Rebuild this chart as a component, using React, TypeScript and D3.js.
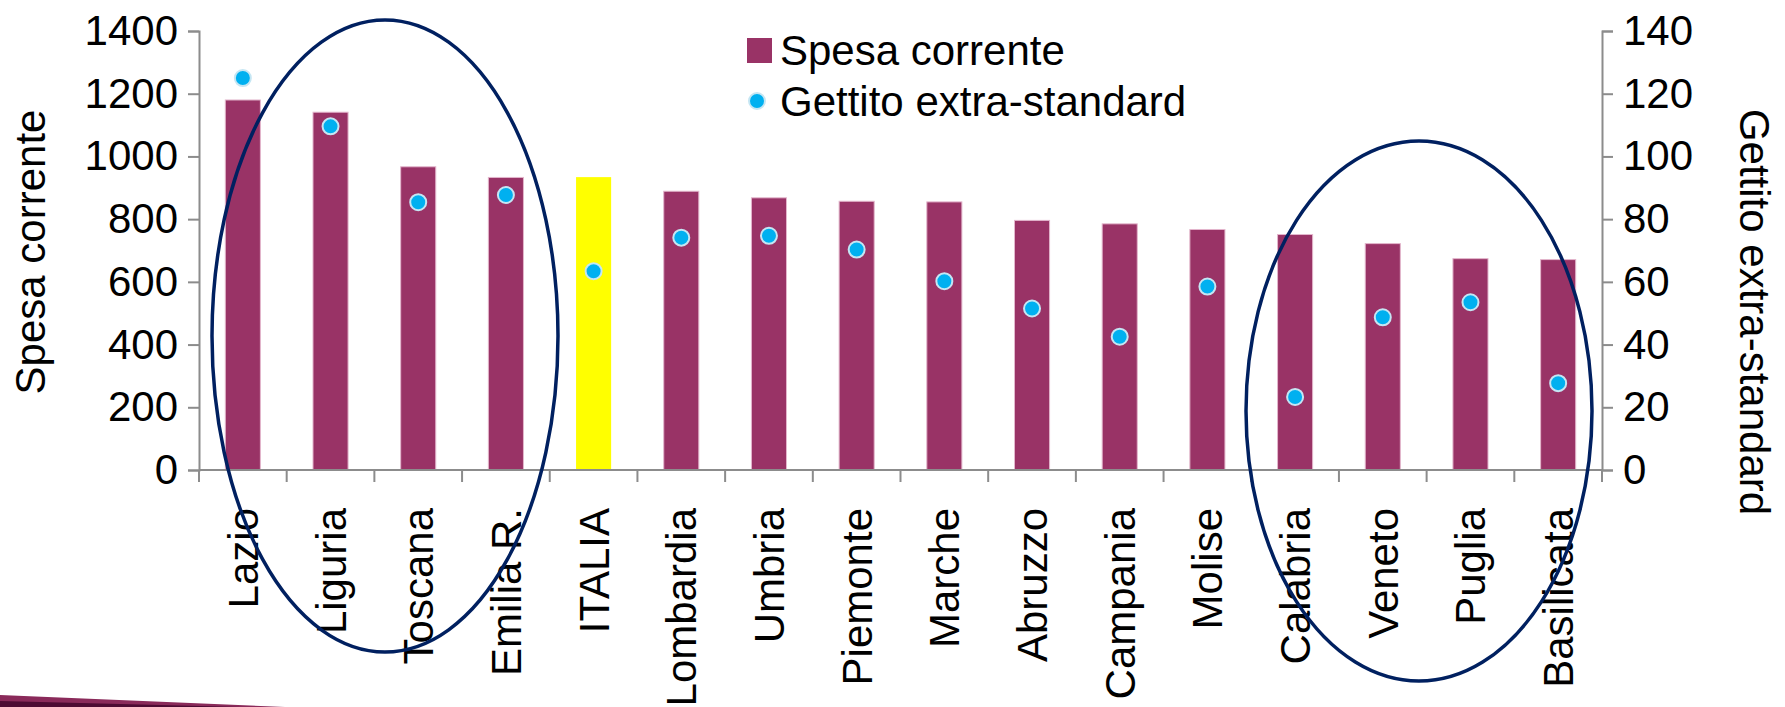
import React from "react";
import * as d3 from "d3";

const categories = [
    "Lazio", "Liguria", "Toscana", "Emilia R.", "ITALIA", "Lombardia", "Umbria", "Piemonte",
    "Marche", "Abruzzo", "Campania", "Molise", "Calabria", "Veneto", "Puglia", "Basilicata",
];
const spesaCorrente = [1180, 1141, 967, 933, 934, 889, 868, 857, 855, 796, 785, 767, 751, 722, 674, 671];
const gettitoExtra = [125, 109.6, 85.4, 87.7, 63.4, 74.1, 74.7, 70.3, 60.2, 51.5, 42.5, 58.5, 23.3, 48.7, 53.5, 27.7];
const leftTicks = [0, 200, 400, 600, 800, 1000, 1200, 1400];
const rightTicks = [0, 20, 40, 60, 80, 100, 120, 140];
const highlight = "ITALIA";

export default function App() {
    const ref = React.useRef<SVGSVGElement>(null);
    React.useEffect(() => {
        const width = 1785;
        const height = 707;
        const marginLeft = 199;
        const marginRight = 183;
        const marginTop = 31;
        const plotBottom = 470;
        const font = "'Liberation Sans', Arial, sans-serif";
        const axisColor = "#8c8c8c";

        const svg = d3.select(ref.current);
        svg.selectAll("*").remove();
        svg.attr("width", width).attr("height", height).attr("viewBox", [0, 0, width, height]);

        const data = categories.map((c, i) => ({ c, spesa: spesaCorrente[i], gettito: gettitoExtra[i] }));

        // band scale for the categories, bars are 40% of the band
        const x = d3.scaleBand().domain(categories).range([marginLeft, width - marginRight]).padding(0);
        const barW = x.bandwidth() * 0.4;
        const yL = d3.scaleLinear().domain([0, 1400]).range([plotBottom, marginTop]);
        const yR = d3.scaleLinear().domain([0, 140]).range([plotBottom, marginTop]);

        // bars
        svg.append("g")
            .selectAll()
            .data(data)
            .join("rect")
            .attr("x", (d) => x(d.c)! + (x.bandwidth() - barW) / 2)
            .attr("y", (d) => yL(d.spesa))
            .attr("width", barW)
            .attr("height", (d) => yL(0) - yL(d.spesa))
            .attr("fill", (d) => (d.c === highlight ? "#ffff00" : "#993366"))
            .attr("stroke", (d) => (d.c === highlight ? "none" : "#e3b6cc"))
            .attr("stroke-width", 1);

        // left axis
        const gl = svg.append("g")
            .attr("transform", `translate(${marginLeft},0)`)
            .call(d3.axisLeft(yL).tickValues(leftTicks).tickFormat(d3.format("d")).tickSize(11).tickPadding(10));
        gl.selectAll("path, line").attr("stroke", axisColor).attr("stroke-width", 2);
        gl.selectAll("text").attr("font-family", font).attr("font-size", 42).attr("fill", "#000");

        // right axis
        const gr = svg.append("g")
            .attr("transform", `translate(${width - marginRight},0)`)
            .call(d3.axisRight(yR).tickValues(rightTicks).tickFormat(d3.format("d")).tickSize(11).tickPadding(10));
        gr.selectAll("path, line").attr("stroke", axisColor).attr("stroke-width", 2);
        gr.selectAll("text").attr("font-family", font).attr("font-size", 42).attr("fill", "#000");

        // bottom axis line and category separators
        svg.append("line")
            .attr("x1", marginLeft).attr("x2", width - marginRight)
            .attr("y1", plotBottom).attr("y2", plotBottom)
            .attr("stroke", axisColor).attr("stroke-width", 2);
        svg.append("g")
            .selectAll()
            .data([...categories.map((c) => x(c)!), width - marginRight])
            .join("line")
            .attr("x1", (d) => d).attr("x2", (d) => d)
            .attr("y1", plotBottom).attr("y2", plotBottom + 12)
            .attr("stroke", axisColor).attr("stroke-width", 2);

        // category labels
        svg.append("g")
            .selectAll()
            .data(categories)
            .join("text")
            .attr("transform", (d) => `translate(${x(d)! + x.bandwidth() / 2 + 15},${plotBottom + 38}) rotate(-90)`)
            .attr("text-anchor", "end")
            .attr("font-family", font)
            .attr("font-size", 42)
            .text((d) => d);

        // dots
        svg.append("g")
            .selectAll()
            .data(data)
            .join("circle")
            .attr("cx", (d) => x(d.c)! + x.bandwidth() / 2)
            .attr("cy", (d) => yR(d.gettito))
            .attr("r", 8)
            .attr("fill", "#00b0f0")
            .attr("stroke", "#c5e6f3")
            .attr("stroke-width", 2);

        // axis titles
        svg.append("text")
            .attr("transform", `translate(45,252) rotate(-90)`)
            .attr("text-anchor", "middle")
            .attr("font-family", font)
            .attr("font-size", 42)
            .text("Spesa corrente");
        svg.append("text")
            .attr("transform", `translate(1740,312) rotate(90)`)
            .attr("text-anchor", "middle")
            .attr("font-family", font)
            .attr("font-size", 42)
            .text("Gettito extra-standard");

        // legend
        const lg = svg.append("g").attr("font-family", font).attr("font-size", 42);
        lg.append("rect").attr("x", 747).attr("y", 38).attr("width", 25).attr("height", 25).attr("fill", "#993366");
        lg.append("text").attr("x", 780).attr("y", 65).text("Spesa corrente");
        lg.append("circle").attr("cx", 757).attr("cy", 101).attr("r", 8)
            .attr("fill", "#00b0f0").attr("stroke", "#c5e6f3").attr("stroke-width", 2);
        lg.append("text").attr("x", 780).attr("y", 116).text("Gettito extra-standard");

        // highlight ellipses
        const ellipses = [
            { cx: 385, cy: 336, rx: 173, ry: 316 },
            { cx: 1419, cy: 411, rx: 173, ry: 270 },
        ];
        svg.append("g")
            .selectAll()
            .data(ellipses)
            .join("ellipse")
            .attr("cx", (d) => d.cx).attr("cy", (d) => d.cy)
            .attr("rx", (d) => d.rx).attr("ry", (d) => d.ry)
            .attr("fill", "none")
            .attr("stroke", "#002060")
            .attr("stroke-width", 3.5);

        // slide decoration bottom left
        svg.append("path").attr("d", "M0,695 L285,707 L0,707 Z").attr("fill", "#8a2a5a");
        svg.append("path").attr("d", "M0,701 L240,707 L0,707 Z").attr("fill", "#4d0b33");
    }, []);

    return <svg ref={ref} style={{ position: "absolute", left: 0, top: 0 }}></svg>;
}
